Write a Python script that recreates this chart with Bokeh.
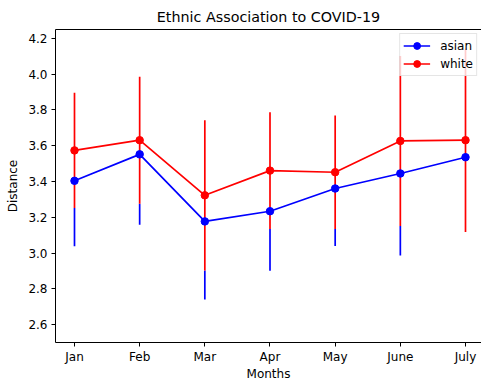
from bokeh.plotting import figure
from bokeh.models import (Range1d, FixedTicker, LinearAxis, Legend, LegendItem,
                          ColumnDataSource)
from bokeh.embed import file_html
from bokeh.resources import INLINE

# ---- data ----
months = ["Jan", "Feb", "Mar", "Apr", "May", "June", "July"]
x_pos = [0, 1, 2, 3, 4, 5, 6]
asian_mean = [3.404, 3.552, 3.177, 3.234, 3.361, 3.445, 3.536]
asian_err = [0.366, 0.393, 0.436, 0.333, 0.322, 0.459, 0.400]
white_mean = [3.574, 3.631, 3.323, 3.461, 3.452, 3.627, 3.631]
white_err = [0.322, 0.355, 0.420, 0.327, 0.317, 0.475, 0.513]
y_ticks = [2.6, 2.8, 3.0, 3.2, 3.4, 3.6, 3.8, 4.0, 4.2]
y_tick_labels = ["2.6", "2.8", "3.0", "3.2", "3.4", "3.6", "3.8", "4.0", "4.2"]

FONT = "DejaVu Sans"

p = figure(width=481, height=383, output_backend="svg", toolbar_location=None,
           x_range=Range1d(-0.2915, 6.2455), y_range=Range1d(2.5, 4.25),
           min_border_left=55, min_border_right=0, min_border_top=29,
           min_border_bottom=0,
           title="Ethnic Association to COVID-19")
p.title.text_font = FONT
p.title.text_font_size = "14.3px"
p.title.text_font_style = "normal"
p.title.text_color = "black"
p.title.align = "center"
p.title.standoff = 9

p.outline_line_color = None
p.xgrid.visible = False
p.ygrid.visible = False
p.background_fill_color = "white"

for ax in (p.xaxis[0], p.yaxis[0]):
    ax.axis_line_color = "black"
    ax.axis_line_width = 1
    ax.major_tick_line_color = "black"
    ax.major_tick_out = 4
    ax.major_tick_in = 0
    ax.minor_tick_line_color = None
    ax.major_label_text_font = FONT
    ax.major_label_text_font_size = "12px"
    ax.major_label_text_color = "black"
    ax.major_label_standoff = 4
    ax.axis_label_text_font = FONT
    ax.axis_label_text_font_size = "12px"
    ax.axis_label_text_font_style = "normal"
    ax.axis_label_text_color = "black"

p.xaxis.ticker = FixedTicker(ticks=x_pos)
p.xaxis.major_label_overrides = {i: m for i, m in zip(x_pos, months)}
p.xaxis.major_label_standoff = 3
p.xaxis.axis_label = "Months"
p.xaxis.axis_label_standoff = 0

p.yaxis.ticker = FixedTicker(ticks=y_ticks)
p.yaxis.major_label_overrides = {t: l for t, l in zip(y_ticks, y_tick_labels)}
p.yaxis.axis_label = "Distance"
p.yaxis.axis_label_standoff = 5

top = LinearAxis(ticker=FixedTicker(ticks=[]), axis_line_color="black",
                 major_tick_line_color=None, minor_tick_line_color=None,
                 major_tick_out=0, major_label_standoff=0,
                 major_label_text_font_size="0px")
p.add_layout(top, "above")

a_lo = [m - e for m, e in zip(asian_mean, asian_err)]
a_hi = [m + e for m, e in zip(asian_mean, asian_err)]
w_lo = [m - e for m, e in zip(white_mean, white_err)]
w_hi = [m + e for m, e in zip(white_mean, white_err)]
# the part of the asian bar that lies under the red bar is hidden anyway;
# stop it where the red bar begins to avoid anti-aliasing fringes
a_top = [max(lo, min(hi, wl)) for lo, hi, wl in zip(a_lo, a_hi, w_lo)]

src_a = ColumnDataSource(dict(x=x_pos, y=asian_mean, lo=a_lo, hi=a_top))
src_w = ColumnDataSource(dict(x=x_pos, y=white_mean, lo=w_lo, hi=w_hi))

LW = 1.7
p.segment(x0="x", y0="lo", x1="x", y1="hi", source=src_a, line_color="blue", line_width=LW)
p.segment(x0="x", y0="lo", x1="x", y1="hi", source=src_w, line_color="red", line_width=LW)
la = p.line("x", "y", source=src_a, line_color="blue", line_width=LW)
sa = p.scatter("x", "y", source=src_a, size=7.5, fill_color="blue", line_color="blue")
lw_ = p.line("x", "y", source=src_w, line_color="red", line_width=LW)
sw = p.scatter("x", "y", source=src_w, size=7.5, fill_color="red", line_color="red")

legend = Legend(items=[LegendItem(label="asian", renderers=[la, sa]),
                       LegendItem(label="white", renderers=[lw_, sw])],
                location="top_right")
legend.border_line_color = "#cccccc"
legend.border_line_width = 1
legend.background_fill_alpha = 0.8
legend.label_text_font = FONT
legend.label_text_font_size = "12px"
legend.label_text_color = "black"
legend.glyph_width = 27
legend.glyph_height = 17
legend.label_height = 17
legend.label_standoff = 10
legend.padding = 3
legend.spacing = 1
legend.margin = 4
p.add_layout(legend)

open("out.html", "w").write(file_html(p, INLINE))
